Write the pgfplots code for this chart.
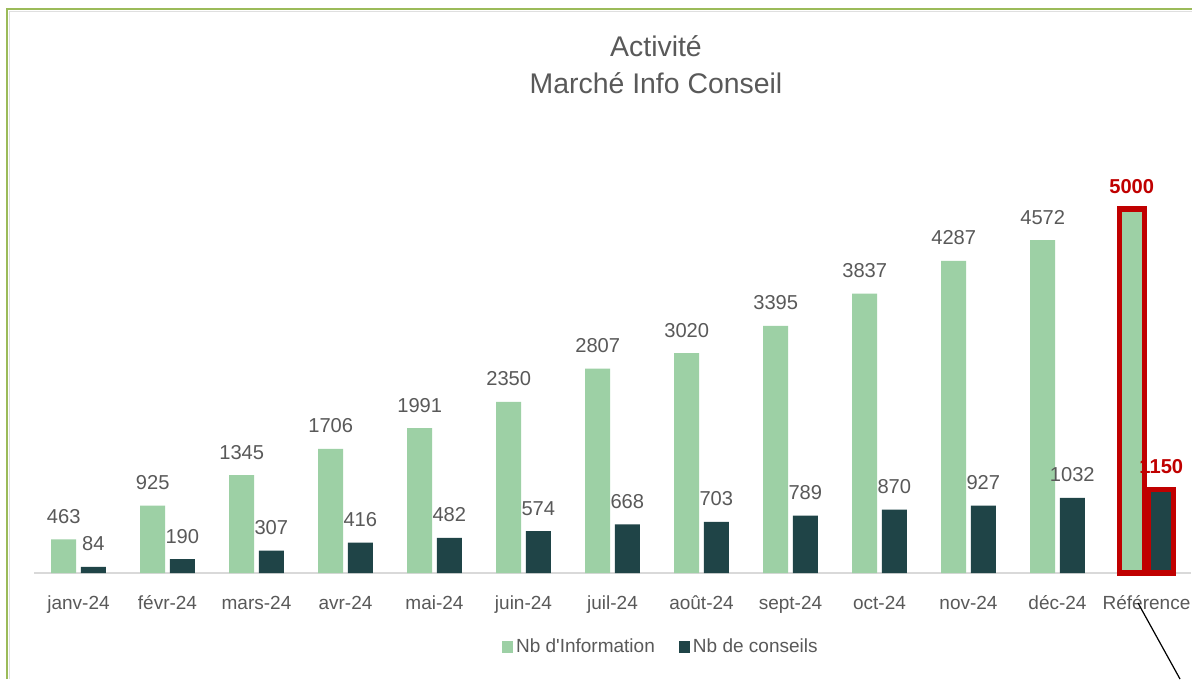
\documentclass[border=0pt]{standalone}
\usepackage{pgfplots}
\pgfplotsset{compat=1.18}
\usepackage{fontspec}
\setmainfont{Liberation Sans}
\definecolor{lgreen}{HTML}{9DD0A5}
\definecolor{dgreen}{HTML}{1F4447}
\definecolor{txt}{HTML}{595959}
\definecolor{refred}{HTML}{C00000}
\definecolor{framec}{HTML}{9BBB59}
\definecolor{axl}{HTML}{D9D9D9}
\begin{document}
\begin{tikzpicture}[x=0.75pt,y=0.75pt]
\path[use as bounding box] (0,0) rectangle (1192,679);
\fill[white] (0,0) rectangle (1192,679);
\draw[gray!25, line width=1pt] (9.5,0) -- (9.5,667.5) -- (1192,667.5);
\draw[framec, line width=1.9pt] (7,0) -- (7,670) -- (1195,670);
\node[anchor=base, font=\fontsize{21.3}{25}\selectfont, text=txt] at (656,622) {Activité};
\node[anchor=base, font=\fontsize{21.3}{25}\selectfont, text=txt] at (656,585) {Marché Info Conseil};
\begin{axis}[
  at={(25.5pt,79.5pt)}, anchor=south west, scale only axis,
  width=867.75pt, height=273pt,
  xmin=-0.5, xmax=12.5, ymin=0, ymax=5000,
  enlargelimits=false, clip=false,
  axis y line=none, axis x line*=bottom,
  x axis line style={axl, line width=1.2pt, -},
  xtick={0,...,12}, major tick length=0pt,
  xticklabels={janv-24,févr-24,mars-24,avr-24,mai-24,juin-24,juil-24,août-24,sept-24,oct-24,nov-24,déc-24,Référence},
  xticklabel style={font=\fontsize{14.25}{17}\selectfont, text=txt, anchor=base, inner sep=0pt, yshift=-27pt},
  /pgf/number format/.cd, 1000 sep={}, assume math mode=true, /pgfplots/.cd,
  ybar, bar width=18.75pt,
  nodes near coords,
  every node near coord/.append style={font=\fontsize{15.1}{17}\selectfont, text=txt, anchor=base, inner sep=0pt, yshift=12pt},
  legend style={at={(0.542,-0.203)}, anchor=center, draw=none, fill=none, legend columns=2,
    font=\fontsize{14.25}{17}\selectfont, text=txt,
    /tikz/every even column/.append style={column sep=16pt}},
  legend cell align=left,
]
\addplot[fill=lgreen, draw=none, bar shift=-11.1pt,
  legend image code/.code={\fill[lgreen] (0pt,-4.3pt) rectangle (8.6pt,4.3pt);}]
  coordinates {(0,463)(1,925)(2,1345)(3,1706)(4,1991)(5,2350)(6,2807)(7,3020)(8,3395)(9,3837)(10,4287)(11,4572)};
\addlegendentry{Nb d\textquotesingle Information}
\addplot[fill=dgreen, draw=none, bar shift=11.1pt,
  legend image code/.code={\fill[dgreen] (0pt,-4.3pt) rectangle (8.6pt,4.3pt);}]
  coordinates {(0,84)(1,190)(2,307)(3,416)(4,482)(5,574)(6,668)(7,703)(8,789)(9,870)(10,927)(11,1032)};
\addlegendentry{Nb de conseils}
\addplot[fill=lgreen, draw=refred, line width=3.8pt, bar shift=-11.1pt, forget plot,
  every node near coord/.append style={text=refred, font=\fontsize{15.1}{17}\selectfont\bfseries}]
  coordinates {(12,5000)};
\addplot[fill=dgreen, draw=refred, line width=3.8pt, bar shift=11.1pt, forget plot,
  every node near coord/.append style={text=refred, font=\fontsize{15.1}{17}\selectfont\bfseries}]
  coordinates {(12,1150)};
\end{axis}
\draw[black, line width=0.9pt] (1138,76) -- (1180,0);
\end{tikzpicture}
\end{document}
